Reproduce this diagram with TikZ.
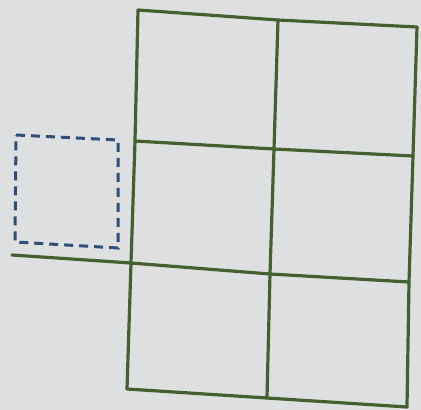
\documentclass[tikz,border=0pt]{standalone}
\begin{document}
\begin{tikzpicture}[x=1pt,y=-1pt,
  gridline/.style={draw=gridgreen,line width=3.2pt,line cap=round,line join=round},
  dashbox/.style={draw=dashblue,line width=3pt,dash pattern=on 9pt off 6pt}]
\definecolor{gridgreen}{RGB}{68,96,48}
\definecolor{dashblue}{RGB}{48,78,118}
\definecolor{paper}{RGB}{222,223,225}
\fill[paper] (0,0) rectangle (421,410);
\useasboundingbox (0,0) rectangle (421,410);
% grid corners
\coordinate (a0) at (138,10);  \coordinate (b0) at (278,20);  \coordinate (c0) at (417,27);
\coordinate (a1) at (135,141); \coordinate (b1) at (274,149); \coordinate (c1) at (413,156);
\coordinate (a2) at (131,263); \coordinate (b2) at (270,274); \coordinate (c2) at (409,282);
\coordinate (a3) at (127,389); \coordinate (b3) at (267,398); \coordinate (c3) at (407,407);
\coordinate (ext) at (12,255);
% horizontal lines
\draw[gridline] (a0) -- (b0) -- (c0);
\draw[gridline] (a1) -- (b1) -- (c1);
\draw[gridline] (ext) -- (a2) -- (b2) -- (c2);
\draw[gridline] (a3) -- (b3) -- (c3);
% vertical lines
\draw[gridline] (a0) -- (a1) -- (a2) -- (a3);
\draw[gridline] (b0) -- (b1) -- (b2) -- (b3);
\draw[gridline] (c0) -- (c1) -- (c2) -- (c3);
% dashed square
\draw[dashbox] (16,135) -- (118,140) -- (118,248) -- (15,242) -- cycle;
\end{tikzpicture}
\end{document}
